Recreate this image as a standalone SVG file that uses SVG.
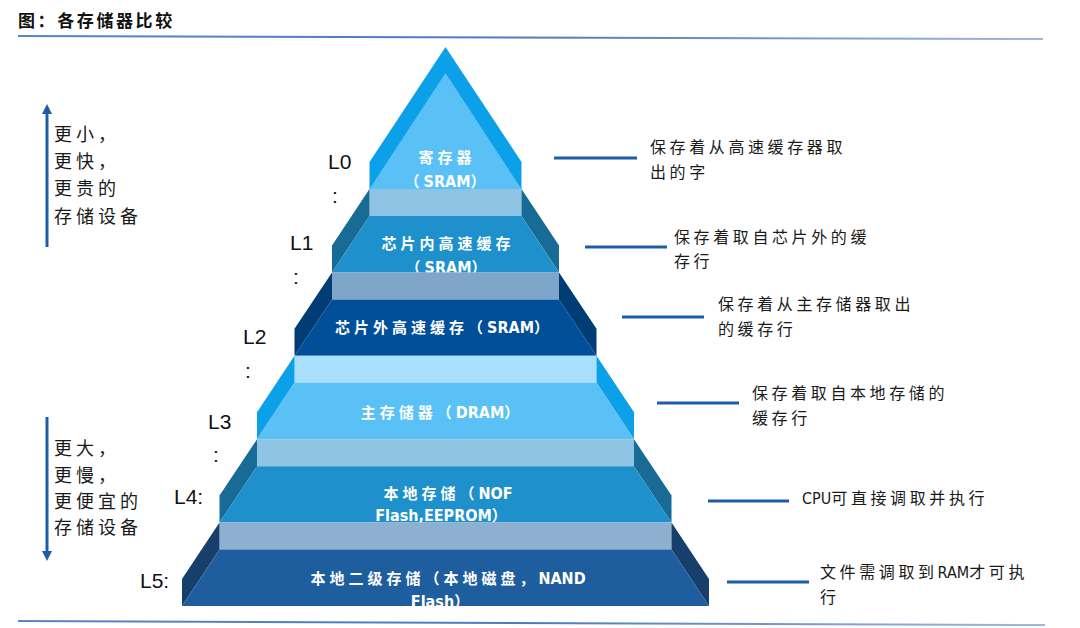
<svg xmlns="http://www.w3.org/2000/svg" width="1080" height="628" viewBox="0 0 1080 628">
<defs>
<style>
.title{font-family:"Noto Sans CJK SC","Noto Sans",sans-serif;font-size:17px;font-weight:700;fill:#111;letter-spacing:2.6px}
.pt{font-family:"Noto Sans CJK SC","Noto Sans",sans-serif;font-size:15px;font-weight:700;fill:#fff;letter-spacing:4px;text-anchor:middle}
.lat{font-family:"DejaVu Sans Condensed","DejaVu Sans",sans-serif;font-stretch:condensed;font-size:16px;font-weight:700;letter-spacing:0}
.rt{font-family:"Noto Sans CJK SC","Noto Sans",sans-serif;font-size:16px;fill:#1a1a1a;letter-spacing:3.6px}
.rlat{font-family:"DejaVu Sans Condensed","DejaVu Sans",sans-serif;font-stretch:condensed;font-size:16px;letter-spacing:0}
.lt{font-family:"Noto Sans CJK SC","Noto Sans",sans-serif;font-size:18px;fill:#1a1a1a;letter-spacing:4px}
.lv{font-family:"Liberation Sans",Arial,sans-serif;font-size:21px;fill:#111}
.conn{stroke:#1F5CA8;stroke-width:3;fill:none}
.arr{stroke:#1F5CA8;stroke-width:3;fill:none}
.s1{fill:#8EC4E3}.b1{fill:#186B95}.f1{fill:#1E91CD}
.s2{fill:#7FA6CA}.b2{fill:#003D74}.f2{fill:#004F98}
.s3{fill:#A9DFFB}.b3{fill:#0CA0E8}.f3{fill:#5AC1F7}
.s5{fill:#8DAFD0}.b5{fill:#173F6C}.f5{fill:#1F5E9E}
</style>
<linearGradient id="rule" x1="0" y1="0" x2="1" y2="0">
<stop offset="0" stop-color="#5A84C4"/>
<stop offset="0.5" stop-color="#4A7CC4"/>
<stop offset="1" stop-color="#9DB8DE"/>
</linearGradient>
<marker id="ah" markerUnits="userSpaceOnUse" markerWidth="12" markerHeight="10" refX="2" refY="5" orient="auto">
<path d="M0,0 L10,5 L0,10 Z" fill="#1F5CA8"/>
</marker>
</defs>
<rect width="1080" height="628" fill="#fff"/>

<g id="header">
<text class="title" x="18" y="27">图：各存储器比较</text>
<line x1="18" y1="36" x2="1043" y2="39" stroke="url(#rule)" stroke-width="2"/>
<line x1="18" y1="621" x2="1045" y2="625" stroke="url(#rule)" stroke-width="2"/>
</g>

<g id="level0">
<polygon class="b3" points="445.5,47 521.5,162 521.5,189 369.5,189 369.5,162"/>
<polygon class="f3" points="445.5,73 521.5,189 369.5,189"/>
<text class="pt" x="447" y="163">寄存器</text>
<text class="pt" x="447" y="187">（<tspan class="lat">SRAM</tspan>）</text>
</g>

<g id="level1">
<rect class="s1" x="369.5" y="189" width="152" height="27"/>
<polygon class="b1" points="369.5,189 332,245.4 332,272.4 369.5,216"/>
<polygon class="b1" points="521.5,189 559,245.4 559,272.4 521.5,216"/>
<polygon class="f1" points="369.5,216 521.5,216 559,272.4 332,272.4"/>
<text class="pt" x="448" y="248.5">芯片内高速缓存</text>
<text class="pt" x="448" y="272.5">（<tspan class="lat">SRAM</tspan>）</text>
</g>

<g id="level2">
<rect class="s2" x="332" y="272.4" width="227" height="27"/>
<polygon class="b2" points="332,272.4 294.5,328.8 294.5,355.8 332,299.4"/>
<polygon class="b2" points="559,272.4 596.5,328.8 596.5,355.8 559,299.4"/>
<polygon class="f2" points="332,299.4 559,299.4 596.5,355.8 294.5,355.8"/>
<text class="pt" x="444" y="332.5">芯片外高速缓存（<tspan class="lat">SRAM</tspan>）</text>
</g>

<g id="level3">
<rect class="s3" x="294.5" y="355.8" width="302" height="27"/>
<polygon class="b3" points="294.5,355.8 257,412.2 257,439.2 294.5,382.8"/>
<polygon class="b3" points="596.5,355.8 634,412.2 634,439.2 596.5,382.8"/>
<polygon class="f3" points="294.5,382.8 596.5,382.8 634,439.2 257,439.2"/>
<text class="pt" x="442" y="417.5">主存储器（<tspan class="lat">DRAM</tspan>）</text>
</g>

<g id="level4">
<rect class="s1" x="257" y="439.2" width="377" height="27"/>
<polygon class="b1" points="257,439.2 219.5,495.6 219.5,522.6 257,466.2"/>
<polygon class="b1" points="634,439.2 671.5,495.6 671.5,522.6 634,466.2"/>
<polygon class="f1" points="257,466.2 634,466.2 671.5,522.6 219.5,522.6"/>
<text class="pt" x="448" y="498.5">本地存储（<tspan class="lat">NOF</tspan></text>
<text class="pt" x="443" y="521"><tspan class="lat">Flash,EEPROM</tspan>）</text>
</g>

<g id="level5">
<rect class="s5" x="219.5" y="522.6" width="452" height="27"/>
<polygon class="b5" points="219.5,522.6 182,579 182,606 219.5,549.6"/>
<polygon class="b5" points="671.5,522.6 709,579 709,606 671.5,549.6"/>
<polygon class="f5" points="219.5,549.6 671.5,549.6 709,606 182,606"/>
<text class="pt" x="448" y="583.5">本地二级存储（本地磁盘，<tspan class="lat">NAND</tspan></text>
<text class="pt" x="442" y="607"><tspan class="lat">Flash</tspan>）</text>
</g>

<g id="level-labels">
<text class="lv" x="328" y="169">L0</text>
<text class="lv" x="332" y="203">:</text>
<text class="lv" x="290" y="250">L1</text>
<text class="lv" x="293" y="284">:</text>
<text class="lv" x="243" y="344">L2</text>
<text class="lv" x="245" y="378">:</text>
<text class="lv" x="208" y="429">L3</text>
<text class="lv" x="213" y="462">:</text>
<text class="lv" x="174" y="504">L4:</text>
<text class="lv" x="140" y="588">L5:</text>
</g>

<g id="side-notes">
<text class="lt" x="54" y="141">更小，</text>
<text class="lt" x="54" y="168">更快，</text>
<text class="lt" x="54" y="195">更贵的</text>
<text class="lt" x="54" y="223">存储设备</text>
<text class="lt" x="54" y="455">更大，</text>
<text class="lt" x="54" y="482">更慢，</text>
<text class="lt" x="54" y="508">更便宜的</text>
<text class="lt" x="54" y="534">存储设备</text>
</g>

<g id="desc">
<text class="rt" x="650" y="153">保存着从高速缓存器取</text>
<text class="rt" x="650" y="178">出的字</text>
<text class="rt" x="674" y="243">保存着取自芯片外的缓</text>
<text class="rt" x="674" y="267">存行</text>
<text class="rt" x="718" y="310">保存着从主存储器取出</text>
<text class="rt" x="718" y="335">的缓存行</text>
<text class="rt" x="752" y="399">保存着取自本地存储的</text>
<text class="rt" x="752" y="424">缓存行</text>
<text class="rt" x="802" y="504"><tspan class="rlat">CPU</tspan>可直接调取并执行</text>
<text class="rt" x="820" y="578">文件需调取到<tspan class="rlat">RAM</tspan>才可执</text>
<text class="rt" x="820" y="603">行</text>
</g>

<g id="connectors">
<line class="conn" x1="554" y1="158" x2="637" y2="158"/>
<line class="conn" x1="585" y1="247" x2="667" y2="247"/>
<line class="conn" x1="622" y1="317" x2="704" y2="317"/>
<line class="conn" x1="657" y1="403" x2="739" y2="403"/>
<line class="conn" x1="708" y1="501" x2="789" y2="501"/>
<line class="conn" x1="727" y1="582" x2="809" y2="582"/>
<line class="arr" x1="47" y1="247" x2="47" y2="112" marker-end="url(#ah)"/>
<line class="arr" x1="47" y1="417" x2="47" y2="553" marker-end="url(#ah)"/>
</g>
</svg>
